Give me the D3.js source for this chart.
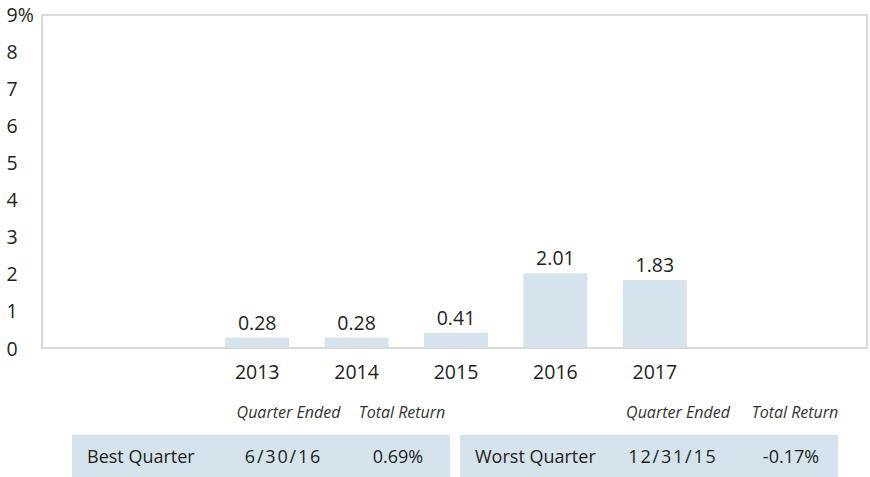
<!DOCTYPE html>
<html><head><meta charset="utf-8">
<script src="https://cdn.jsdelivr.net/npm/d3@7"></script>
<style>
html,body{margin:0;padding:0;background:#fff;}
svg text{font-family:"Open Sans",sans-serif;fill:#231f20;}
</style></head>
<body><svg id="c" width="870" height="477"></svg>
<script>
const years = ["2013","2014","2015","2016","2017"];
const values = [0.28, 0.28, 0.41, 2.01, 1.83];
const yTicks = [0,1,2,3,4,5,6,7,8,9];
const tableHeaders = ["Quarter Ended","Total Return"];
const bestRow = ["Best Quarter","6/30/16","0.69%"];
const worstRow = ["Worst Quarter","12/31/15","-0.17%"];

const svg = d3.select("#c");
const barColor = "#d4e3ec";
const frame = {l:42, t:15, r:867, b:348};

const y = d3.scaleLinear().domain([0,9]).range([348,14]);
const x = d3.scaleBand().domain(years).range([207.5,704.5]).paddingInner(0.356).paddingOuter(0.178);

// frame
svg.append("rect").attr("x",frame.l).attr("y",frame.t)
  .attr("width",frame.r-frame.l).attr("height",frame.b-frame.t)
  .attr("fill","none").attr("stroke","#d9d9d9").attr("stroke-width",2);

// y axis labels
const yAxis = d3.axisLeft(y).tickValues(yTicks).tickSize(0)
  .tickFormat(d => d===9 ? "9%" : String(d));
const ya = svg.append("g").attr("transform","translate(6.5,0)").call(yAxis);
ya.attr("font-size",null);
ya.select(".domain").remove();
ya.selectAll("text").attr("text-anchor","start").attr("x",0).attr("dy","0.36em")
  .attr("font-size","19.5px").style("font-size","19.5px").attr("fill","#231f20");

// bars
svg.selectAll("rect.bar").data(values).join("rect").attr("class","bar")
  .attr("x",(d,i)=>x(years[i])).attr("width",x.bandwidth())
  .attr("y",d=>y(d)).attr("height",d=>y(0)-y(d)-1).attr("fill",barColor);

// value labels
svg.selectAll("text.val").data(values).join("text").attr("class","val")
  .attr("x",(d,i)=>x(years[i])+x.bandwidth()/2).attr("y",d=>y(d)-8)
  .attr("text-anchor","middle").style("font-size","19.5px")
  .text(d=>d.toFixed(2));

// x axis labels
const xAxis = d3.axisBottom(x).tickSize(0);
const xa = svg.append("g").attr("transform","translate(0,360)").call(xAxis);
xa.attr("font-size",null);
xa.select(".domain").remove();
xa.selectAll("text").attr("dy","0").attr("y",19)
  .style("font-size","19.5px").attr("fill","#231f20");

// table
function table(x0, x1, cols, row){
  svg.append("rect").attr("x",x0).attr("y",435).attr("width",x1-x0).attr("height",45).attr("fill",barColor);
  tableHeaders.forEach((h,i)=>{
    svg.append("text").attr("x",cols[i]).attr("y",418).attr("text-anchor","middle")
      .style("font-size","16px").style("font-style","italic")
      .style("fill","#333").text(h);
  });
  svg.append("text").attr("x",x0+15).attr("y",463).style("font-size","18px").text(row[0]);
  svg.append("text").attr("x",cols[0]-5).attr("y",463).attr("text-anchor","middle")
    .style("font-size","18px").style("letter-spacing","1.8px").text(row[1]);
  svg.append("text").attr("x",cols[1]-4).attr("y",463).attr("text-anchor","middle").style("font-size","18px").text(row[2]);
}
table(72, 450, [288.5, 402], bestRow);
table(460, 838, [678, 795], worstRow);
</script></body></html>
